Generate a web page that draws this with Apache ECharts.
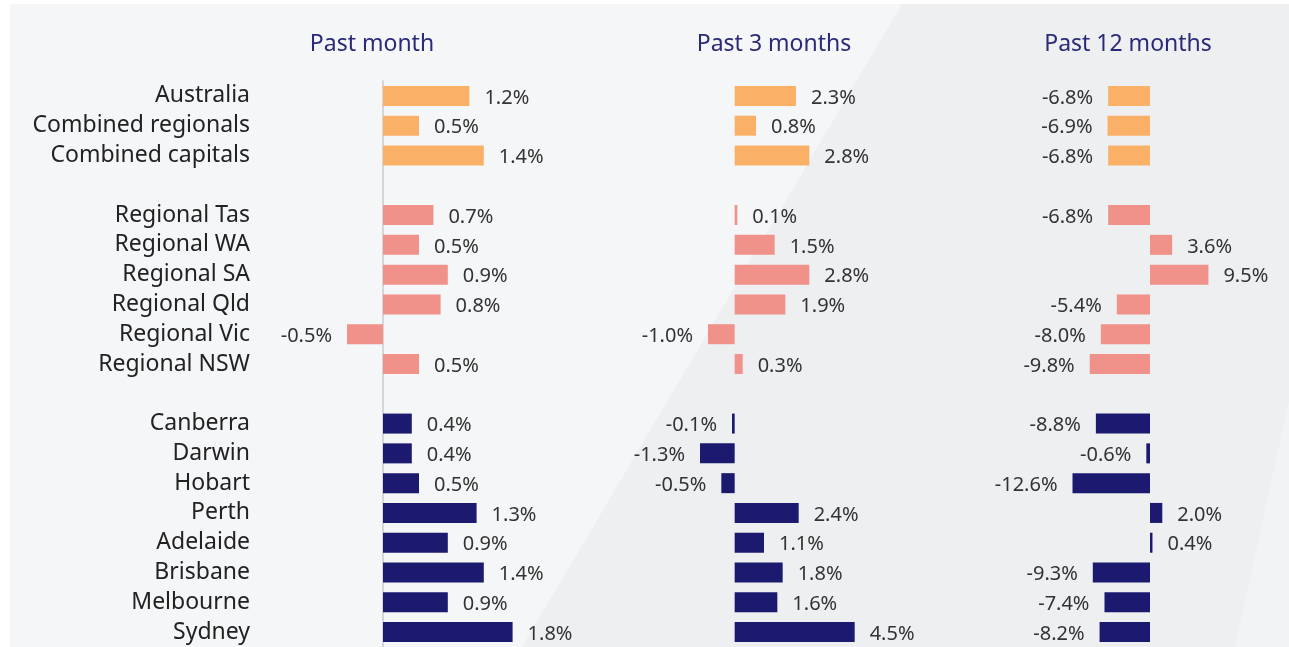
<!DOCTYPE html>
<html lang="en">
<head>
    <meta charset="UTF-8">
    <title>Dwelling value change</title>
    <style>
        html, body {margin: 0; padding: 0; background: #ffffff;}
        #chart {width: 1289px; height: 647px;}
    </style>
</head>
<body>
    <div id="chart"></div>

    <script src="https://cdn.jsdelivr.net/npm/echarts/dist/echarts.min.js"></script>
    <script>

// regions, top to bottom ('' rows are the gaps between groups)
const regions = ['Australia', 'Combined regionals', 'Combined capitals', '',
    'Regional Tas', 'Regional WA', 'Regional SA', 'Regional Qld', 'Regional Vic', 'Regional NSW', ' ',
    'Canberra', 'Darwin', 'Hobart', 'Perth', 'Adelaide', 'Brisbane', 'Melbourne', 'Sydney'];

const pastMonth = [1.2, 0.5, 1.4, null, 0.7, 0.5, 0.9, 0.8, -0.5, 0.5, null, 0.4, 0.4, 0.5, 1.3, 0.9, 1.4, 0.9, 1.8];
const past3Months = [2.3, 0.8, 2.8, null, 0.1, 1.5, 2.8, 1.9, -1.0, 0.3, null, -0.1, -1.3, -0.5, 2.4, 1.1, 1.8, 1.6, 4.5];
const past12Months = [-6.8, -6.9, -6.8, null, -6.8, 3.6, 9.5, -5.4, -8.0, -9.8, null, -8.8, -0.6, -12.6, 2.0, 0.4, -9.3, -7.4, -8.2];

const panelTitles = ['Past month', 'Past 3 months', 'Past 12 months'];

// group of each row: 0 = national, 1 = regional, 2 = capital
const rowGroup = [0, 0, 0, -1, 1, 1, 1, 1, 1, 1, -1, 2, 2, 2, 2, 2, 2, 2, 2];
const groupColors = ['#fbb068', '#f0918a', '#1b1a6e'];

const chart = echarts.init(document.getElementById('chart'));

const FONT = 'Noto Sans';

// panel layout: left, width, axis min/max (zero line sits where it does in the source)
const panels = [
    {left: 275, width: 288, min: -1.5, max: 2.5, values: pastMonth, titleX: 367},
    {left: 628, width: 240, min: -4, max: 5, values: past3Months, titleX: 769},
    {left: 1027, width: 246, min: -20, max: 20, values: past12Months, titleX: 1123}
];

function barData(values) {
    return values.map(function (v, i) {
        if (v === null) return '-';
        return {
            value: v,
            itemStyle: {color: groupColors[rowGroup[i]]},
            label: {position: v < 0 ? 'left' : 'right'}
        };
    });
}

const grids = [], xAxes = [], yAxes = [], series = [], titles = [];

panels.forEach(function (p, k) {
    grids.push({left: p.left, width: p.width, top: 81, height: 570});
    xAxes.push({
        type: 'value', gridIndex: k, min: p.min, max: p.max,
        show: false
    });
    yAxes.push({
        type: 'category', gridIndex: k, data: regions, inverse: true,
        axisLine: {show: k === 0, onZero: true, lineStyle: {color: '#d4d6d9', width: 2}},
        axisTick: {show: false},
        axisLabel: {
            show: k === 0,
            interval: 0,
            margin: 25,
            fontFamily: FONT, fontSize: 23, color: '#222222'
        }
    });
    series.push({
        type: 'bar',
        xAxisIndex: k, yAxisIndex: k,
        barWidth: 20,
        data: barData(p.values),
        label: {
            show: true,
            distance: 15,
            offset: [0, 2],
            fontFamily: FONT, fontSize: 20, color: '#333333',
            formatter: function (d) { return d.value.toFixed(1) + '%'; }
        }
    });
    titles.push({
        text: panelTitles[k],
        left: p.titleX, top: 28, textAlign: 'center',
        textStyle: {fontFamily: FONT, fontSize: 23, fontWeight: 'normal', color: '#2a2a78'}
    });
});

chart.setOption({
    backgroundColor: '#ffffff',
    animation: false,
    title: titles,
    graphic: [
        {type: 'rect', z: -10, shape: {x: 10, y: 4, width: 1279, height: 643}, style: {fill: '#f5f6f8'}},
        {type: 'polygon', z: -9, shape: {points: [[902, 4], [1289, 4], [1289, 647], [522, 647]]}, style: {fill: '#edeff1'}},
        {type: 'polygon', z: -8, shape: {points: [[1289, 400], [1289, 647], [1235, 647]]}, style: {fill: '#f2f3f4'}}
    ],
    grid: grids,
    xAxis: xAxes,
    yAxis: yAxes,
    series: series
});

    </script>
</body>
</html>
